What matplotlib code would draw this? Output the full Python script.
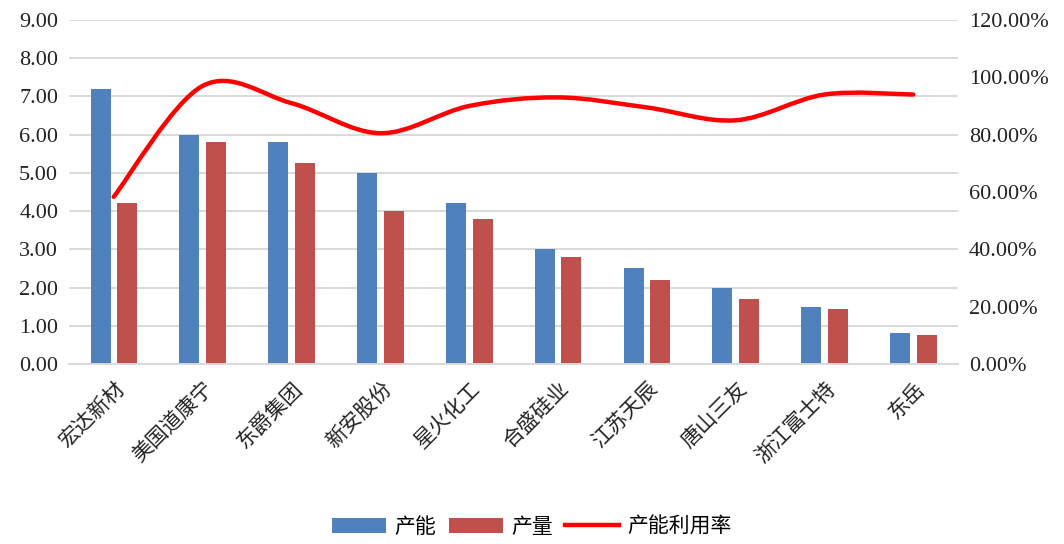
import matplotlib
matplotlib.use('Agg')  # no display
import numpy as np
import matplotlib.pyplot as plt
from matplotlib.path import Path
from matplotlib.patches import PathPatch
from matplotlib.lines import Line2D
from matplotlib.ticker import FuncFormatter

companies = ['宏达新材', '美国道康宁', '东爵集团', '新安股份', '星火化工',
             '合盛硅业', '江苏天辰', '唐山三友', '浙江富士特', '东岳']
capacity = [7.2, 6.0, 5.8, 5.0, 4.2, 3.0, 2.5, 2.0, 1.5, 0.8]
output = [4.2, 5.8, 5.25, 4.0, 3.8, 2.8, 2.2, 1.7, 1.45, 0.75]
utilization = [0.583, 0.97, 0.91, 0.805, 0.90, 0.93, 0.895, 0.85, 0.94, 0.94]

BLUE = '#4F81BD'
RED = '#C0504D'
GRID = '#d9d9d9'
num_font = 'Liberation Serif'
cjk_font = ['Noto Sans CJK SC', 'DejaVu Sans']

fig = plt.figure(figsize=(10.64, 5.44), dpi=100)
ax = fig.add_axes([0.0651, 0.331, 0.8350, 0.6322])
ax2 = ax.twinx()

x = np.arange(len(companies))
ax.bar(x - 0.148, capacity, width=0.225, color=BLUE, label='产能', zorder=2)
ax.bar(x + 0.152, output, width=0.225, color=RED, label='产量', zorder=2)

ax.set_xlim(-0.5, len(companies) - 0.5)
ax.set_ylim(0, 9)
ax.set_yticks(np.arange(0, 9.01, 1))
ax.yaxis.set_major_formatter(FuncFormatter(lambda v, p: f'{v:.2f}'))
ax.grid(axis='y', color=GRID, linewidth=1.4, zorder=0)
ax.set_axisbelow(True)
for s in ['top', 'right', 'left']:
    ax.spines[s].set_visible(False)
ax.spines['bottom'].set_color(GRID)
ax.spines['bottom'].set_linewidth(1.4)
ax.tick_params(axis='both', length=0)
ax.tick_params(axis='y', pad=8)
for t in ax.get_yticklabels():
    t.set_fontfamily(num_font)
    t.set_fontsize(16)
    t.set_color('#222222')

ax.set_xticks(x)
ax.set_xticklabels(companies, rotation=45, ha='right', va='top',
                   rotation_mode='anchor', fontsize=15, family=cjk_font,
                   color='#222222')
ax.tick_params(axis='x', pad=10)

# smoothed line (Excel-style Bezier through the points)
ax2.set_ylim(0, 1.2)
ax2.set_yticks(np.arange(0, 1.201, 0.2))
ax2.yaxis.set_major_formatter(FuncFormatter(lambda v, p: f'{v * 100:.2f}%'))
for s in ax2.spines.values():
    s.set_visible(False)
ax2.tick_params(axis='y', length=0, pad=8)
for t in ax2.get_yticklabels():
    t.set_fontfamily(num_font)
    t.set_fontsize(16)
    t.set_color('#222222')

pts = np.column_stack([x, utilization])
ext = np.vstack([pts[0], pts, pts[-1]])
verts = [tuple(pts[0])]
codes = [Path.MOVETO]
for i in range(len(pts) - 1):
    p0, p1, p2, p3 = ext[i], ext[i + 1], ext[i + 2], ext[i + 3]
    c1 = p1 + (p2 - p0) / 6
    c2 = p2 - (p3 - p1) / 6
    verts += [tuple(c1), tuple(c2), tuple(p2)]
    codes += [Path.CURVE4] * 3
ax2.add_patch(PathPatch(Path(verts, codes), facecolor='none',
                        edgecolor='#FF0000', linewidth=3.2,
                        capstyle='round', joinstyle='round', zorder=3))

handles, labels = ax.get_legend_handles_labels()
handles.append(Line2D([], [], color='#FF0000', linewidth=3.2))
labels.append('产能利用率')
fig.legend(handles, labels, loc='center', bbox_to_anchor=(0.5, 0.032),
           ncol=3, frameon=False, prop={'family': cjk_font, 'size': 15},
           handlelength=2.6, handletextpad=0.4, columnspacing=0.6)

fig.savefig('out.png', dpi=100)
